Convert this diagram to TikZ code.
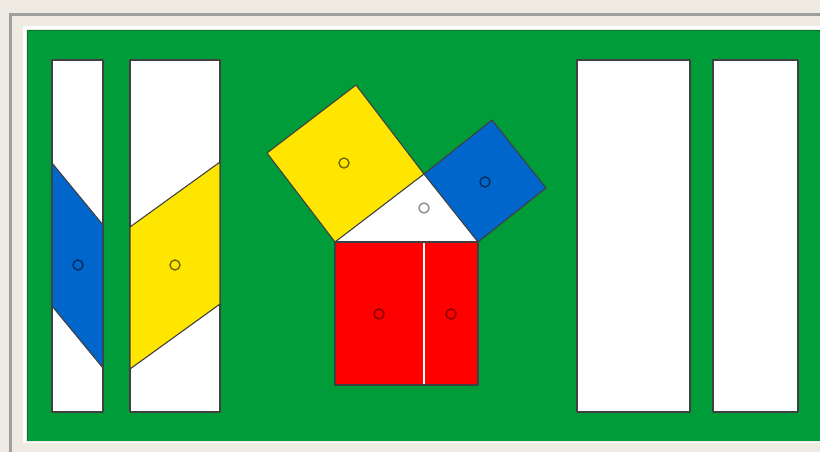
\documentclass[tikz,border=0pt]{standalone}
\definecolor{bg}{RGB}{239,235,226}
\definecolor{grn}{RGB}{0,156,58}
\definecolor{grndk}{RGB}{0,120,45}
\definecolor{yel}{RGB}{255,230,0}
\definecolor{blu}{RGB}{0,102,204}
\definecolor{rd}{RGB}{255,0,0}
\begin{document}
\begin{tikzpicture}[x=1pt,y=-1pt,
  outl/.style={draw=black!75, line width=1.1pt, line join=round},
  dot/.style={line width=1.4pt}]
\useasboundingbox (0,0) rectangle (820,452);
\fill[bg] (0,0) rectangle (820,452);
% frame lines
\draw[gray!75, line width=2.5pt] (10.5,452) -- (10.5,14.5) -- (820,14.5);
\draw[white, line width=2.5pt] (24.5,443) -- (24.5,27.5) -- (820,27.5);
\draw[white!90!bg, line width=1.5pt] (24.5,442.5) -- (820,442.5);
% green board
\fill[grn] (27,30) rectangle (820,441);
\draw[grndk, line width=1pt] (27.5,441) -- (27.5,30.5) -- (820,30.5);
% strips
\filldraw[fill=white, outl] (52,60) rectangle (103,412);
\filldraw[fill=white, outl] (130,60) rectangle (220,412);
\filldraw[fill=white, outl] (577,60) rectangle (690,412);
\filldraw[fill=white, outl] (713,60) rectangle (798,412);
% sheared parallelograms
\filldraw[fill=blu, outl] (52,163) -- (103,225) -- (103,368) -- (52,306) -- cycle;
\filldraw[fill=yel, outl] (130,227) -- (220,162) -- (220,304) -- (130,369) -- cycle;
% triangle and squares
\fill[white] (335,242) -- (424,174) -- (478,242) -- cycle;
\filldraw[fill=yel, outl] (335,242) -- (267,153) -- (356,85) -- (424,174) -- cycle;
\filldraw[fill=blu, outl] (424,174) -- (492,120) -- (546,188) -- (478,242) -- cycle;
\filldraw[fill=rd, outl] (335,242) rectangle (478,385);
\draw[white, line width=1.6pt] (424,243) -- (424,384.4);
% pins
\draw[dot, draw=blu!45!black] (78,265) circle (5);
\draw[dot, draw=yel!45!black] (175,265) circle (5);
\draw[dot, draw=yel!45!black] (344,163) circle (5);
\draw[dot, draw=blu!45!black] (485,182) circle (5);
\draw[dot, draw=black!45] (424,208) circle (5);
\draw[dot, draw=rd!50!black] (379,314) circle (5);
\draw[dot, draw=rd!50!black] (451,314) circle (5);
\end{tikzpicture}
\end{document}
